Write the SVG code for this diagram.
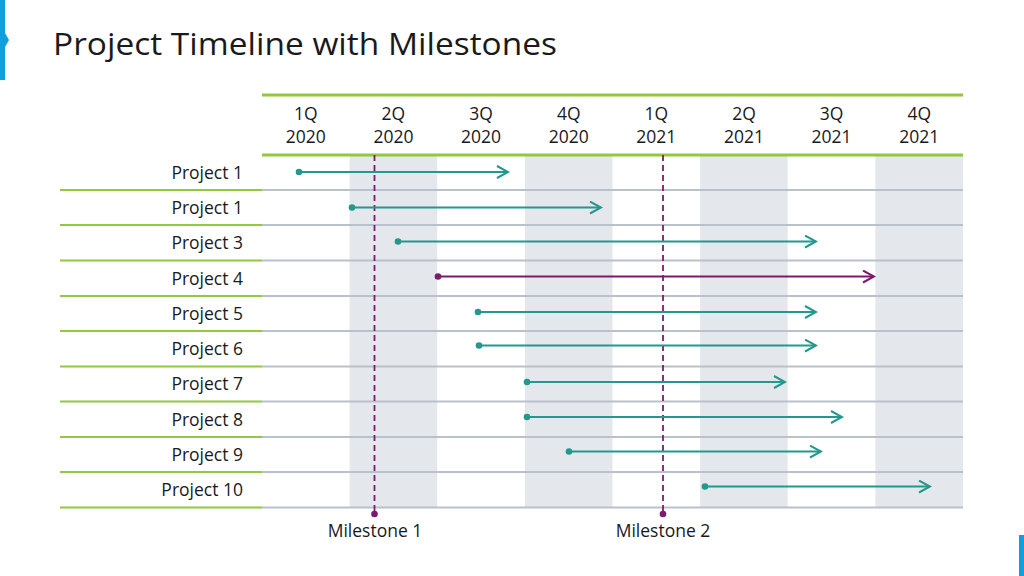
<svg xmlns="http://www.w3.org/2000/svg" width="1024" height="576" viewBox="0 0 1024 576">
<defs>
<marker id="aT" viewBox="0 0 14 14" refX="12" refY="7" markerWidth="14" markerHeight="14" markerUnits="userSpaceOnUse" orient="auto"><path d="M1,1 L12,7 L1,13" fill="none" stroke="#23998e" stroke-width="2"/></marker>
<marker id="aP" viewBox="0 0 14 14" refX="12" refY="7" markerWidth="14" markerHeight="14" markerUnits="userSpaceOnUse" orient="auto"><path d="M1,1 L12,7 L1,13" fill="none" stroke="#7d1a6f" stroke-width="2"/></marker>
</defs>
<style>
text{font-family:"Open Sans","Noto Sans","Liberation Sans",sans-serif;fill:#1a1a1a}
.hd{font-size:17.5px;text-anchor:middle}
.lb{font-size:17.5px;text-anchor:end}
.ms{font-size:17.5px;text-anchor:middle}
.shade{fill:#e4e7ec}
.gr{stroke:#b9c1cb;stroke-width:2}
.gn{stroke:#92c83e;stroke-width:2}
.gnt{stroke:#92c83e;stroke-width:3}
.bt{stroke:#23998e;stroke-width:2.2;fill:none;marker-end:url(#aT)}
.bp{stroke:#7d1a6f;stroke-width:2.2;fill:none;marker-end:url(#aP)}
.dt{fill:#23998e}
.dp{fill:#7d1a6f}
.mil{stroke:#7d1a6f;stroke-width:1.8;stroke-dasharray:6,4}
</style>
<rect width="1024" height="576" fill="#ffffff"/>
<g id="decor">
<rect x="0" y="0" width="5" height="80" fill="#0ea0dc"/>
<path d="M5,33 L9,40 L5,47 Z" fill="#0ea0dc"/>
<rect x="1019" y="535" width="5" height="41" fill="#0ea0dc"/>
</g>
<text x="53" y="55" style="font-size:31px;fill:#1a1a1a" textLength="504" lengthAdjust="spacingAndGlyphs">Project Timeline with Milestones</text>
<g id="grid">
<rect class="shade" x="349.6" y="155" width="87.6" height="352"/>
<rect class="shade" x="524.9" y="155" width="87.6" height="352"/>
<rect class="shade" x="700.1" y="155" width="87.6" height="352"/>
<rect class="shade" x="875.4" y="155" width="87.6" height="352"/>
<line class="gnt" x1="262" y1="95" x2="963" y2="95"/>
<line class="gnt" x1="262" y1="155" x2="963" y2="155"/>
<g id="rowlines">
<line class="gn" x1="60" y1="190" x2="262" y2="190"/><line class="gr" x1="262" y1="190" x2="963" y2="190"/>
<line class="gn" x1="60" y1="225" x2="262" y2="225"/><line class="gr" x1="262" y1="225" x2="963" y2="225"/>
<line class="gn" x1="60" y1="260.5" x2="262" y2="260.5"/><line class="gr" x1="262" y1="260.5" x2="963" y2="260.5"/>
<line class="gn" x1="60" y1="296" x2="262" y2="296"/><line class="gr" x1="262" y1="296" x2="963" y2="296"/>
<line class="gn" x1="60" y1="331" x2="262" y2="331"/><line class="gr" x1="262" y1="331" x2="963" y2="331"/>
<line class="gn" x1="60" y1="366.5" x2="262" y2="366.5"/><line class="gr" x1="262" y1="366.5" x2="963" y2="366.5"/>
<line class="gn" x1="60" y1="401.5" x2="262" y2="401.5"/><line class="gr" x1="262" y1="401.5" x2="963" y2="401.5"/>
<line class="gn" x1="60" y1="437" x2="262" y2="437"/><line class="gr" x1="262" y1="437" x2="963" y2="437"/>
<line class="gn" x1="60" y1="472" x2="262" y2="472"/><line class="gr" x1="262" y1="472" x2="963" y2="472"/>
<line class="gn" x1="60" y1="507.5" x2="262" y2="507.5"/><line class="gr" x1="262" y1="507.5" x2="963" y2="507.5"/>
</g>
</g>
<g id="header">
<text class="hd" x="305.8" y="120">1Q</text><text class="hd" x="305.8" y="143">2020</text>
<text class="hd" x="393.4" y="120">2Q</text><text class="hd" x="393.4" y="143">2020</text>
<text class="hd" x="481" y="120">3Q</text><text class="hd" x="481" y="143">2020</text>
<text class="hd" x="568.7" y="120">4Q</text><text class="hd" x="568.7" y="143">2020</text>
<text class="hd" x="656.3" y="120">1Q</text><text class="hd" x="656.3" y="143">2021</text>
<text class="hd" x="744" y="120">2Q</text><text class="hd" x="744" y="143">2021</text>
<text class="hd" x="831.6" y="120">3Q</text><text class="hd" x="831.6" y="143">2021</text>
<text class="hd" x="919.2" y="120">4Q</text><text class="hd" x="919.2" y="143">2021</text>
</g>
<g id="labels">
<text class="lb" x="243" y="179">Project 1</text>
<text class="lb" x="243" y="214">Project 1</text>
<text class="lb" x="243" y="249">Project 3</text>
<text class="lb" x="243" y="285">Project 4</text>
<text class="lb" x="243" y="320">Project 5</text>
<text class="lb" x="243" y="355">Project 6</text>
<text class="lb" x="243" y="390">Project 7</text>
<text class="lb" x="243" y="426">Project 8</text>
<text class="lb" x="243" y="461">Project 9</text>
<text class="lb" x="243" y="496">Project 10</text>
</g>
<g id="milestones">
<line class="mil" x1="374.5" y1="155" x2="374.5" y2="514"/>
<circle class="dp" cx="374.5" cy="514" r="3.3"/>
<text class="ms" x="375" y="537">Milestone 1</text>
<line class="mil" x1="663" y1="155" x2="663" y2="514"/>
<circle class="dp" cx="663" cy="514" r="3.3"/>
<text class="ms" x="663" y="537">Milestone 2</text>
</g>
<g id="connectors">
<line class="bt" x1="299" y1="172" x2="508" y2="172"/><circle class="dt" cx="299" cy="172" r="3.3"/>
<line class="bt" x1="352" y1="207.5" x2="601" y2="207.5"/><circle class="dt" cx="352" cy="207.5" r="3.3"/>
<line class="bt" x1="398" y1="241.5" x2="816" y2="241.5"/><circle class="dt" cx="398" cy="241.5" r="3.3"/>
<line class="bp" x1="438" y1="276.5" x2="874" y2="276.5"/><circle class="dp" cx="438" cy="276.5" r="3.3"/>
<line class="bt" x1="478" y1="312" x2="816" y2="312"/><circle class="dt" cx="478" cy="312" r="3.3"/>
<line class="bt" x1="479" y1="345.5" x2="816" y2="345.5"/><circle class="dt" cx="479" cy="345.5" r="3.3"/>
<line class="bt" x1="527" y1="382" x2="785" y2="382"/><circle class="dt" cx="527" cy="382" r="3.3"/>
<line class="bt" x1="527" y1="417" x2="842" y2="417"/><circle class="dt" cx="527" cy="417" r="3.3"/>
<line class="bt" x1="569" y1="451.5" x2="821" y2="451.5"/><circle class="dt" cx="569" cy="451.5" r="3.3"/>
<line class="bt" x1="705" y1="486.5" x2="930" y2="486.5"/><circle class="dt" cx="705" cy="486.5" r="3.3"/>
</g>
</svg>
